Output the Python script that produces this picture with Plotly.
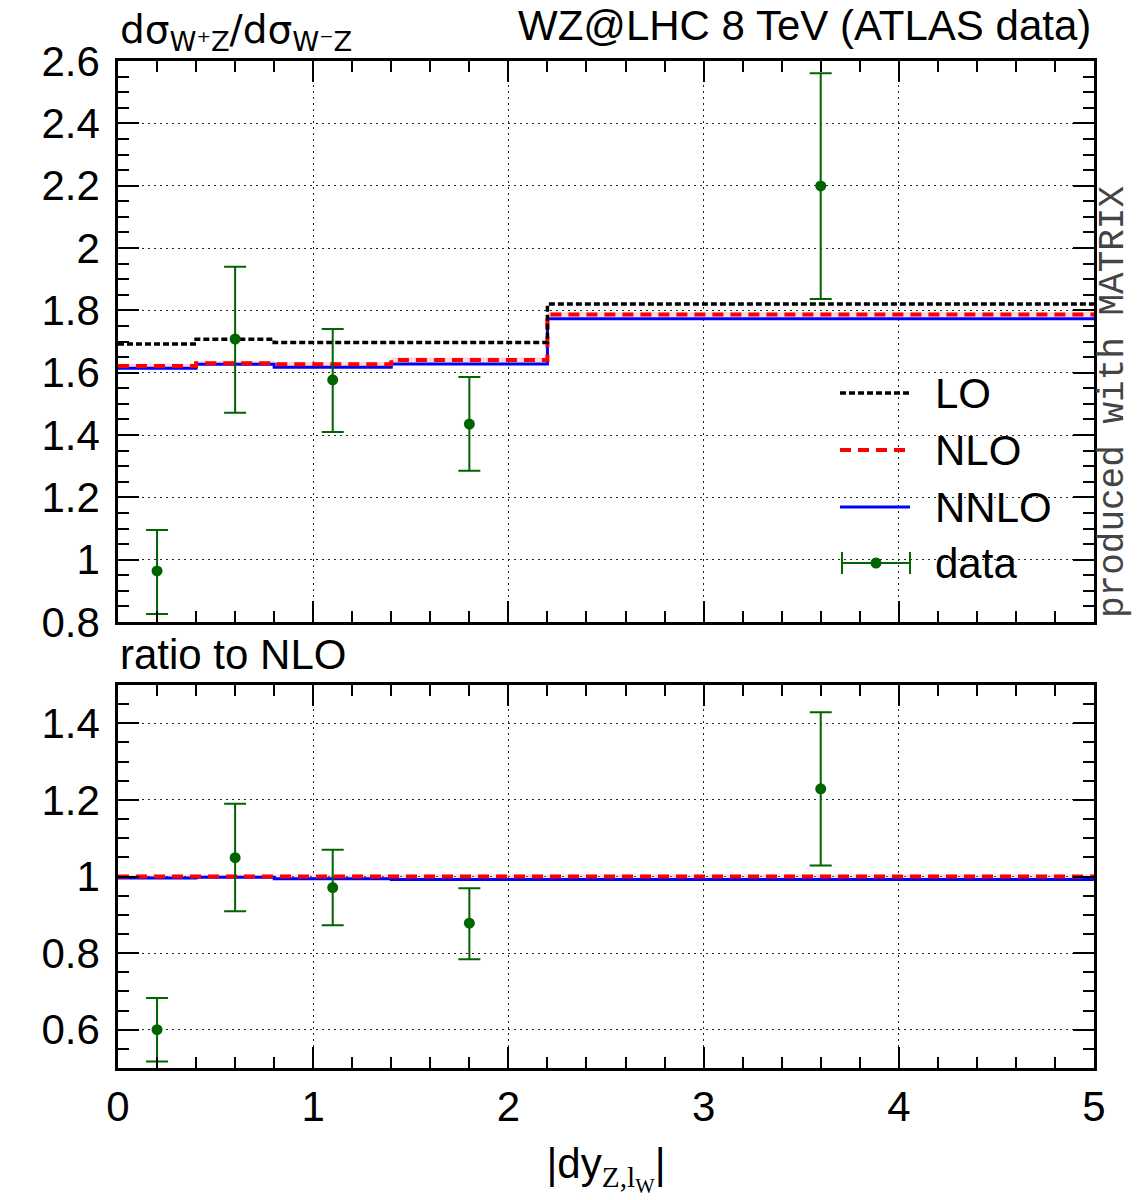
import plotly.graph_objects as go

# ---------------- data ----------------
bin_edges = [0, 0.4, 0.8, 1.4, 2.2, 5]
bin_centers = [0.2, 0.6, 1.1, 1.8, 3.6]

lo = [1.692, 1.707, 1.697, 1.697, 1.820]
nlo = [1.621, 1.630, 1.627, 1.641, 1.787]
nlo_band_lo = [1.613, 1.622, 1.619, 1.633, 1.779]
nlo_band_hi = [1.629, 1.638, 1.635, 1.649, 1.795]
nnlo = [1.614, 1.627, 1.617, 1.628, 1.773]

data = [0.964, 1.708, 1.577, 1.435, 2.199]
data_err_up = [0.131, 0.232, 0.163, 0.151, 0.362]
data_err_dn = [0.138, 0.237, 0.167, 0.150, 0.363]

ratio_nlo = [1.0, 1.0, 1.0, 1.0, 1.0]
ratio_nlo_band_lo = [0.995, 0.995, 0.995, 0.995, 0.995]
ratio_nlo_band_hi = [1.005, 1.005, 1.005, 1.005, 1.005]
ratio_nnlo = [0.996, 0.998, 0.994, 0.992, 0.992]
ratio_data = [0.600, 1.049, 0.971, 0.878, 1.229]
ratio_err_up = [0.083, 0.141, 0.099, 0.091, 0.200]
ratio_err_dn = [0.083, 0.140, 0.098, 0.094, 0.200]

legend_labels = ["LO", "NLO", "NNLO", "data"]

# ---------------- style ----------------
FONT = "Liberation Sans"
FS = 42
RED = "#ff0000"
BLUE = "#0000ff"
GREEN = "#006400"
PINK = "rgba(255,150,150,0.35)"

W, H = 1140, 1200
ML, MR, MT, MB = 118, 46, 61, 132
PW = W - ML - MR
PH = H - MT - MB


def px_x(px):
    return (px - ML) / PW


def px_y(py):
    return (H - MB - py) / PH


def step(v):
    return list(v) + [v[-1]]


fig = go.Figure()


def add_panel(xa, ya, band_lo, band_hi, nnlo_v, nlo_v, lo_v, d, eu, ed):
    fig.add_trace(go.Scatter(x=bin_edges, y=step(band_lo), mode="lines", line=dict(width=0, shape="hv"),
                             xaxis=xa, yaxis=ya, hoverinfo="skip"))
    fig.add_trace(go.Scatter(x=bin_edges, y=step(band_hi), mode="lines", line=dict(width=0, shape="hv"),
                             fill="tonexty", fillcolor=PINK, xaxis=xa, yaxis=ya, hoverinfo="skip"))
    fig.add_trace(go.Scatter(x=bin_edges, y=step(nnlo_v), mode="lines", name="NNLO",
                             line=dict(color=BLUE, width=3, shape="hv"), xaxis=xa, yaxis=ya))
    fig.add_trace(go.Scatter(x=bin_edges, y=step(nlo_v), mode="lines", name="NLO",
                             line=dict(color=RED, width=4, shape="hv", dash="11px,7px"), xaxis=xa, yaxis=ya))
    if lo_v is not None:
        fig.add_trace(go.Scatter(x=bin_edges, y=step(lo_v), mode="lines", name="LO",
                                 line=dict(color="black", width=3.5, shape="hv", dash="6px,3px"),
                                 xaxis=xa, yaxis=ya))
    fig.add_trace(go.Scatter(x=bin_centers, y=d, mode="markers", name="data",
                             marker=dict(color=GREEN, size=11),
                             error_y=dict(type="data", array=eu, arrayminus=ed, color=GREEN,
                                          thickness=2, width=11),
                             xaxis=xa, yaxis=ya))


add_panel("x", "y", nlo_band_lo, nlo_band_hi, nnlo, nlo, lo, data, data_err_up, data_err_dn)
add_panel("x2", "y2", ratio_nlo_band_lo, ratio_nlo_band_hi, ratio_nnlo, ratio_nlo, None,
          ratio_data, ratio_err_up, ratio_err_dn)


def axis(**kw):
    d = dict(showline=True, linecolor="black", linewidth=2.5, mirror="ticks",
             ticks="inside", ticklen=21, tickwidth=2, tickcolor="black",
             showgrid=True, gridcolor="#222", gridwidth=1, griddash="1.5px,4.5px",
             zeroline=False, tickfont=dict(family=FONT, size=FS, color="black"),
             ticklabelstandoff=7)
    d.update(kw)
    return d


up_dom = [px_y(622), 1.0]
lo_dom = [0.0, px_y(685)]
minor_x = dict(dtick=0.2, ticks="inside", ticklen=11, tickwidth=2, tickcolor="black", showgrid=False)
minor_y = dict(dtick=0.05, ticks="inside", ticklen=11, tickwidth=2, tickcolor="black", showgrid=False)

fig.update_layout(
    width=W, height=H,
    margin=dict(l=ML, r=MR, t=MT, b=MB),
    paper_bgcolor="white", plot_bgcolor="white",
    showlegend=False,
    xaxis=axis(range=[0, 5], dtick=1, tick0=0, showticklabels=False, anchor="y", minor=minor_x),
    yaxis=axis(range=[0.8, 2.6], dtick=0.2, tick0=0, domain=up_dom, anchor="x", minor=minor_y),
    xaxis2=axis(range=[0, 5], dtick=1, tick0=0, anchor="y2", matches="x", minor=minor_x,
                ticklabelstandoff=0,
                title=dict(text='|dy<sub><span style="font-family:Liberation Serif">Z,l<sub>W</sub></span></sub>|',
                           font=dict(family=FONT, size=FS, color="black"), standoff=20)),
    yaxis2=axis(range=[0.5, 1.5], dtick=0.2, tick0=0, domain=lo_dom, anchor="x2", minor=minor_y),
)

annotations = [
    dict(text="dσ<sub>W⁺Z</sub>/dσ<sub>W⁻Z</sub>", x=0, y=px_y(32), xref="paper", yref="paper",
         xanchor="left", yanchor="middle", showarrow=False,
         font=dict(family="DejaVu Sans", size=39, color="black")),
    dict(text="WZ@LHC 8 TeV (ATLAS data)", x=px_x(1093), y=px_y(25), xref="paper", yref="paper",
         xanchor="right", yanchor="middle", showarrow=False,
         font=dict(family=FONT, size=FS, color="black")),
    dict(text="ratio to NLO", x=0, y=px_y(655), xref="paper", yref="paper",
         xanchor="left", yanchor="middle", showarrow=False,
         font=dict(family=FONT, size=FS, color="black")),
    dict(text="produced with MATRIX", x=px_x(1113), y=px_y(402), xref="paper", yref="paper",
         xanchor="center", yanchor="middle", showarrow=False, textangle=-90,
         font=dict(family="Liberation Mono", size=36, color="#444")),
]

# manual legend
rows_y = [393, 450, 507, 563]
lx0, lx1, ltx = 840, 910, 933
shapes = []
legend_styles = [
    dict(color="black", width=3.5, dash="6px,3px"),
    dict(color=RED, width=4, dash="11px,7px"),
    dict(color=BLUE, width=3),
]
for i, st in enumerate(legend_styles):
    shapes.append(dict(type="line", xref="paper", yref="paper", x0=px_x(lx0), x1=px_x(lx1),
                       y0=px_y(rows_y[i]), y1=px_y(rows_y[i]), line=st))
# data legend glyph
yd = px_y(rows_y[3])
shapes.append(dict(type="line", xref="paper", yref="paper", x0=px_x(lx0 + 2), x1=px_x(lx1),
                   y0=yd, y1=yd, line=dict(color=GREEN, width=2)))
for cx in (lx0 + 2, lx1):
    shapes.append(dict(type="line", xref="paper", yref="paper", x0=px_x(cx), x1=px_x(cx),
                       y0=px_y(rows_y[3] - 11), y1=px_y(rows_y[3] + 11), line=dict(color=GREEN, width=2)))
shapes.append(dict(type="circle", xref="paper", yref="paper", xsizemode="pixel", ysizemode="pixel",
                   xanchor=px_x(876), yanchor=yd, x0=-5.5, x1=5.5, y0=-5.5, y1=5.5,
                   fillcolor=GREEN, line=dict(color=GREEN, width=0)))
for i, lab in enumerate(legend_labels):
    annotations.append(dict(text=lab, x=px_x(ltx), y=px_y(rows_y[i]), xref="paper", yref="paper",
                            xanchor="left", yanchor="middle", showarrow=False,
                            font=dict(family=FONT, size=FS, color="black")))

fig.update_layout(annotations=annotations, shapes=shapes)

fig.write_html("out.html")
